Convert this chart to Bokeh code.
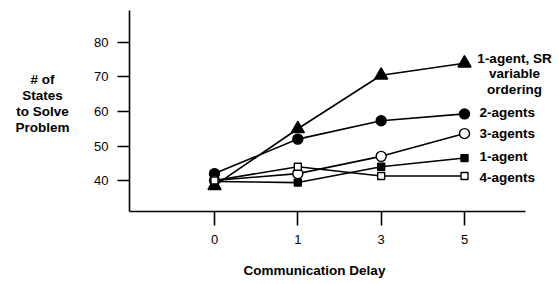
from bokeh.plotting import figure
from bokeh.models import Label, FixedTicker, Range1d
from bokeh.embed import file_html
from bokeh.resources import INLINE

delays = ["0", "1", "3", "5"]
sr_one_agent = [38.5, 55.0, 70.5, 74.0]
two_agents = [42.0, 52.0, 57.3, 59.3]
three_agents = [40.0, 42.0, 47.0, 53.6]
one_agent = [39.7, 39.4, 44.0, 46.5]
four_agents = [40.0, 44.0, 41.3, 41.3]
y_ticks = [40, 50, 60, 70, 80]

xs = list(range(len(delays)))
FONT = "Liberation Sans"

# axis extents (data units)
X_LO, X_HI = -1.02, 3.73
Y_LO, Y_HI = 31.0, 89.3

p = figure(width=559, height=284, output_backend="svg", toolbar_location=None,
           x_range=Range1d(-2.568, 4.14), y_range=Range1d(9.86, 92.17),
           min_border=0)
p.outline_line_color = None
p.grid.visible = False
p.background_fill_color = "white"

for ax in (p.xaxis, p.yaxis):
    ax.axis_line_width = 1.6
    ax.axis_line_color = "black"
    ax.major_tick_line_width = 1.6
    ax.major_tick_line_color = "black"
    ax.major_tick_in = 0
    ax.minor_tick_line_color = None
    ax.major_label_text_font = FONT
    ax.major_label_text_font_size = "13px"
    ax.major_label_text_color = "black"
    ax.major_label_standoff = 9

p.xaxis.ticker = FixedTicker(ticks=xs)
p.xaxis.major_label_overrides = {i: d for i, d in enumerate(delays)}
p.xaxis.major_tick_out = 14
p.xaxis.fixed_location = Y_LO
p.xaxis.bounds = (X_LO, X_HI)
p.yaxis.ticker = FixedTicker(ticks=y_ticks)
p.yaxis.major_tick_out = 12
p.yaxis.fixed_location = X_LO
p.yaxis.bounds = (Y_LO, Y_HI)

series = [
    (sr_one_agent, "triangle", 13, "black"),
    (two_agents, "circle", 10, "black"),
    (three_agents, "circle", 10, "white"),
    (one_agent, "square", 7, "black"),
    (four_agents, "square", 7, "white"),
]
for ys, m, s, fill in series:
    p.line(xs, ys, line_color="black", line_width=1.6)
for ys, m, s, fill in series:
    p.scatter(xs, ys, marker=m, size=s, fill_color=fill, line_color="black",
              line_width=1.4)

def lab(x, y, t, align="left"):
    p.add_layout(Label(x=x, y=y, text=t, text_font=FONT, text_font_size="13.5px",
                       text_font_style="bold", text_align=align,
                       text_baseline="middle", text_color="black"))

# series labels
lab(3.6, 75.4, "1-agent, SR", "center")
lab(3.6, 70.9, "variable", "center")
lab(3.6, 66.4, "ordering", "center")
lab(3.18, 59.7, "2-agents")
lab(3.18, 53.6, "3-agents")
lab(3.18, 47.0, "1-agent")
lab(3.18, 40.9, "4-agents")

# y-axis title
for t, y in zip(["# of", "States", "to Solve", "Problem"], [69.3, 64.6, 60.0, 55.4]):
    lab(-2.064, y, t, "center")

# x-axis title
lab(1.2, 13.9, "Communication Delay", "center")

open("out.html", "w").write(file_html(p, INLINE))
